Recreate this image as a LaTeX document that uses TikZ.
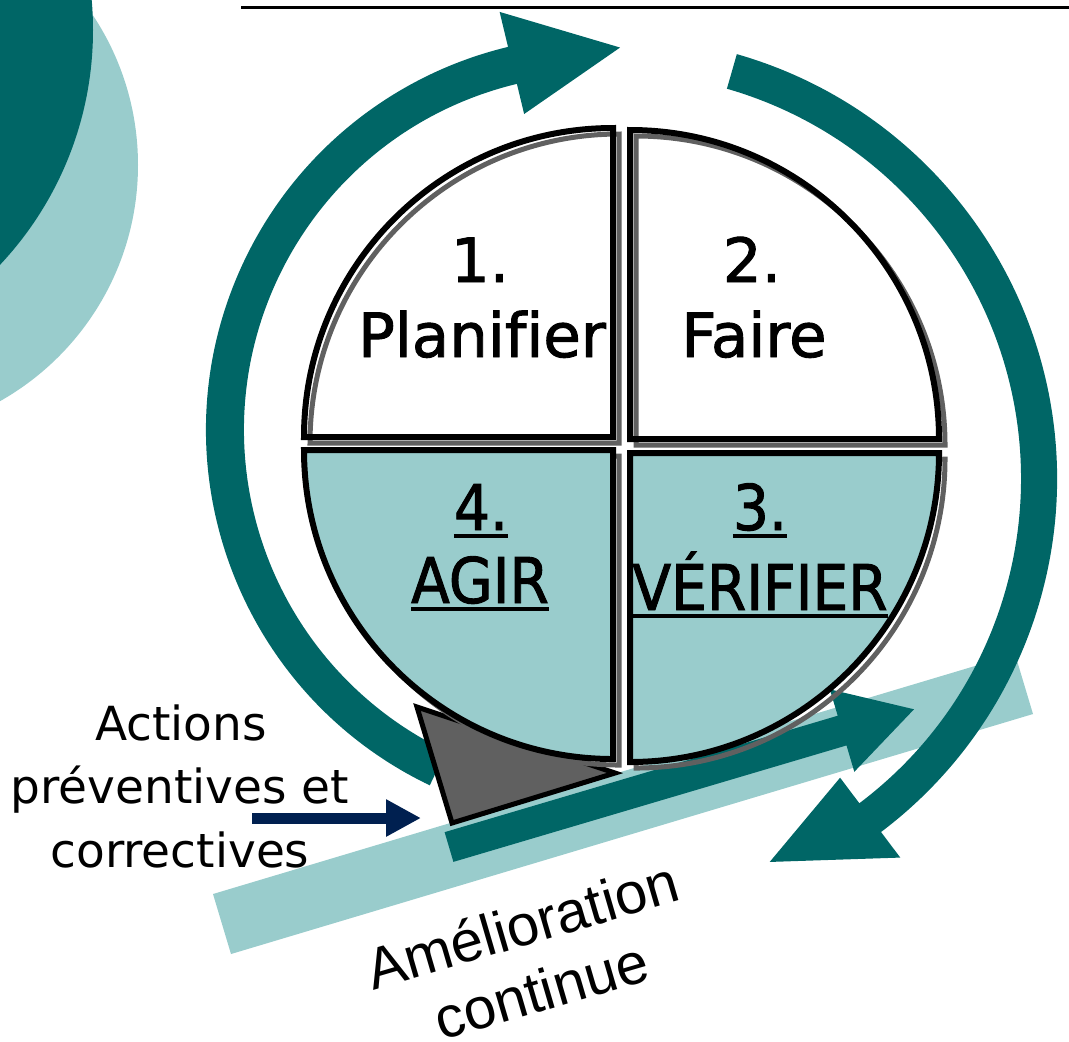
\documentclass[tikz,border=0pt]{standalone}
\usepackage{fontspec}
\setmainfont[Ligatures=NoCommon]{DejaVu Sans}
\newfontfamily\piefont[Ligatures=NoCommon,FakeBold=1.5]{DejaVu Sans}
\newfontfamily\narrowfont[FakeStretch=0.9,FakeBold=1.5]{DejaVu Sans}
\newfontfamily\arialfont{Liberation Sans}
\usetikzlibrary{arrows.meta,positioning}

\definecolor{darkteal}{HTML}{006666}
\definecolor{lightteal}{HTML}{99CCCC}
\definecolor{shadowgray}{HTML}{606060}
\definecolor{navy}{HTML}{002050}

\newcommand{\souligne}[1]{\setbox0=\hbox{#1}\rlap{\rule[-4pt]{\wd0}{2pt}}\box0}

\tikzset{
  quarter/.style={draw=black, line width=3pt},
  quartershadow/.style={draw=shadowgray, line width=2.5pt, shift={(6,6)}},
  toplabel/.style={anchor=base, inner sep=0pt, font=\piefont\fontsize{30.5}{36}\selectfont},
  botlabel/.style={anchor=base, inner sep=0pt, font=\narrowfont\fontsize{31.5}{38}\selectfont},
  sidelabel/.style={anchor=base, inner sep=0pt, font=\fontsize{23.5}{28}\selectfont},
  bandlabel/.style={anchor=base, inner sep=0pt, rotate=16.3, font=\arialfont\fontsize{29}{34}\selectfont}
}

\begin{document}
\begin{tikzpicture}[x=0.5pt,y=-0.5pt]
\useasboundingbox (0,0) rectangle (1069,1041);
\clip (0,0) rectangle (1069,1041);

% corner decoration
\fill[lightteal] (-133,165) circle[radius=271];
\fill[darkteal] (-250,30) circle[radius=343];
\draw[line width=1.5pt] (241,7) -- (1069,7);

% band
\fill[lightteal] (213,894) -- (231,954) -- (1033,714) -- (1015,654) -- cycle;

% round arrows
\begin{scope}[shift={(600,430)}]
\fill[darkteal] (115.6:394) arc[start angle=115.6,end angle=256.5,radius=394]
  -- (256.5:430) -- (273:383) -- (256.5:325) -- (256.5:356)
  arc[start angle=256.5,end angle=115.6,radius=356] -- cycle;
\end{scope}
\begin{scope}[shift={(615,479)}]
\fill[darkteal] (-74:442) arc[start angle=-74,end angle=53,radius=442]
  -- (53:474) -- (68:413) -- (53:374) -- (53:406)
  arc[start angle=53,end angle=-74,radius=406] -- cycle;
\end{scope}

% straight arrow
\begin{scope}[shift={(449,847)},rotate=16.5]
\fill[darkteal] (0,-15.5) -- (410,-15.5) -- (410,-43) -- (485,0)
  -- (410,43) -- (410,15.5) -- (0,15.5) -- cycle;
\end{scope}

% wedge
\filldraw[fill=shadowgray, draw=black, line width=2.5pt] (417,707) -- (452,823) -- (615,773) -- cycle;

% the four quarters
\draw[quartershadow] (613,437) -- ++(0,-309) arc[start angle=270,end angle=180,radius=309] -- cycle;
\draw[quarter] (613,437) -- ++(0,-309) arc[start angle=270,end angle=180,radius=309] -- cycle;
\draw[quartershadow] (630,439) -- ++(0,-309) arc[start angle=270,end angle=360,radius=309] -- cycle;
\draw[quarter] (630,439) -- ++(0,-309) arc[start angle=270,end angle=360,radius=309] -- cycle;
\draw[quartershadow] (630,453) -- ++(309,0) arc[start angle=0,end angle=90,radius=309] -- cycle;
\filldraw[quarter, fill=lightteal] (630,453) -- ++(309,0) arc[start angle=0,end angle=90,radius=309] -- cycle;
\draw[quartershadow] (613,450) -- ++(0,309) arc[start angle=90,end angle=180,radius=309] -- cycle;
\filldraw[quarter, fill=lightteal] (613,450) -- ++(0,309) arc[start angle=90,end angle=180,radius=309] -- cycle;

% labels
\node[toplabel] (num1) at (480,282) {1.};
\node[toplabel] (plan) at (482,357) {Planifier};
\node[toplabel] (num2) at (752,282) {2.};
\node[toplabel] (faire) at (754,357) {Faire};
\node[botlabel] (num4) at (481,530) {\souligne{4.}};
\node[botlabel] (agir) at (480,603) {\souligne{AGIR}};
\node[botlabel] (num3) at (760,530) {\souligne{3.}};
\node[botlabel] (verif) at (760,610) {\souligne{VÉRIFIER}};

\node[sidelabel] (act1) at (181,740) {Actions};
\node[sidelabel] (act2) at (180,803) {préventives et};
\node[sidelabel] (act3) at (180,867) {correctives};

\node[bandlabel] (amel) at (528,945) {Amélioration};
\node[bandlabel] (cont) at (547,1010) {continue};

\coordinate (navytail) at (252,818);
\coordinate (navytip) at (421,818);
\draw[navy, line width=5.5pt, -{Triangle[length=17.5pt,width=17.5pt]}] (navytail) -- (navytip);
\end{tikzpicture}
\end{document}
